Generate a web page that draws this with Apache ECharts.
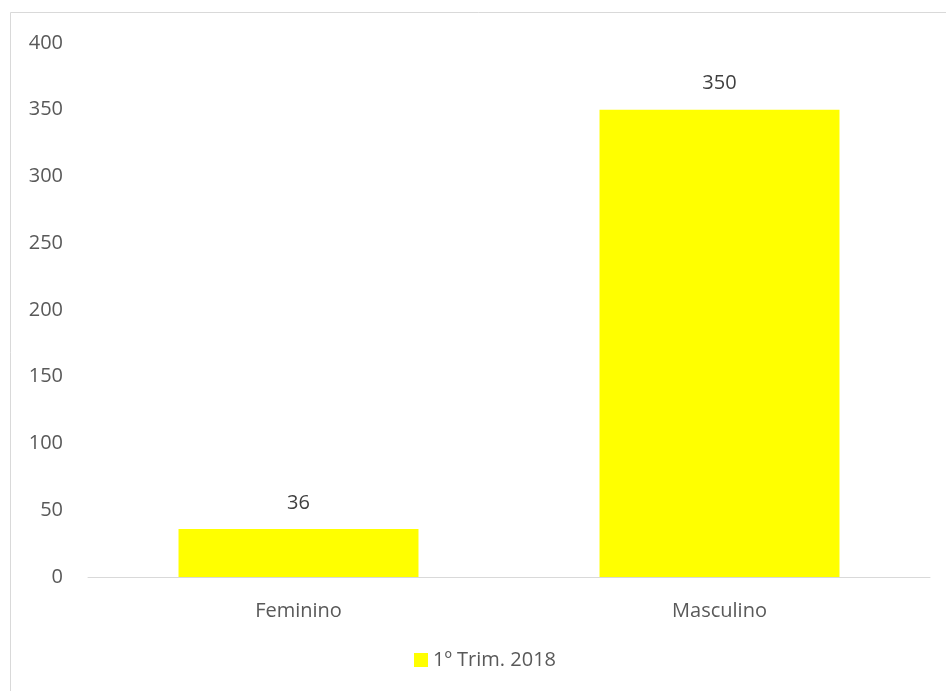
<!DOCTYPE html>
<html>
<head>
<meta charset="utf-8">
<style>
  html, body { margin: 0; padding: 0; background: #fff; }
  #chart { width: 946px; height: 691px; }
</style>
</head>
<body>
<div id="chart"></div>
<script src="https://cdn.jsdelivr.net/npm/echarts@6/dist/echarts.min.js"></script>
<script>
// dados do gráfico
var categories = ['Feminino', 'Masculino'];
var seriesName = '1º Trim. 2018';
var values = [36, 350];
var yTicks = { min: 0, max: 400, step: 50 };

var myChart = echarts.init(document.getElementById('chart'));
var txt = '#595959';
var font = '"Open Sans", sans-serif';

var option = {
    backgroundColor: '#fff',
    animation: false,
    textStyle: { fontFamily: font },
    graphic: [{
        type: 'rect',
        shape: { x: 10.5, y: 12.5, width: 1000, height: 1000 },
        style: { fill: 'none', stroke: '#d9d9d9', lineWidth: 1 },
        silent: true
    }],
    legend: {
        bottom: 16,
        left: 409,
        itemWidth: 14,
        itemHeight: 14,
        itemGap: 6,
        icon: 'rect',
        textStyle: { color: txt, fontSize: 20, fontFamily: font },
        data: [seriesName]
    },
    grid: { left: 88, right: 16, top: 43, bottom: 114 },
    xAxis: {
        type: 'category',
        data: categories,
        axisLine: { lineStyle: { color: '#d9d9d9', width: 1 } },
        axisTick: { show: false },
        axisLabel: { color: txt, fontSize: 20, margin: 24, fontFamily: font }
    },
    yAxis: {
        type: 'value',
        min: yTicks.min,
        max: yTicks.max,
        interval: yTicks.step,
        axisLine: { show: false },
        axisTick: { show: false },
        splitLine: { show: false },
        axisLabel: { color: txt, fontSize: 20, margin: 25, fontFamily: font }
    },
    series: [{
        name: seriesName,
        type: 'bar',
        data: values,
        barWidth: '57%',
        itemStyle: { color: '#ffff00' },
        label: {
            show: true,
            position: 'top',
            distance: 16,
            color: '#404040',
            fontSize: 20,
            fontFamily: font
        }
    }]
};
myChart.setOption(option);
</script>
</body>
</html>
